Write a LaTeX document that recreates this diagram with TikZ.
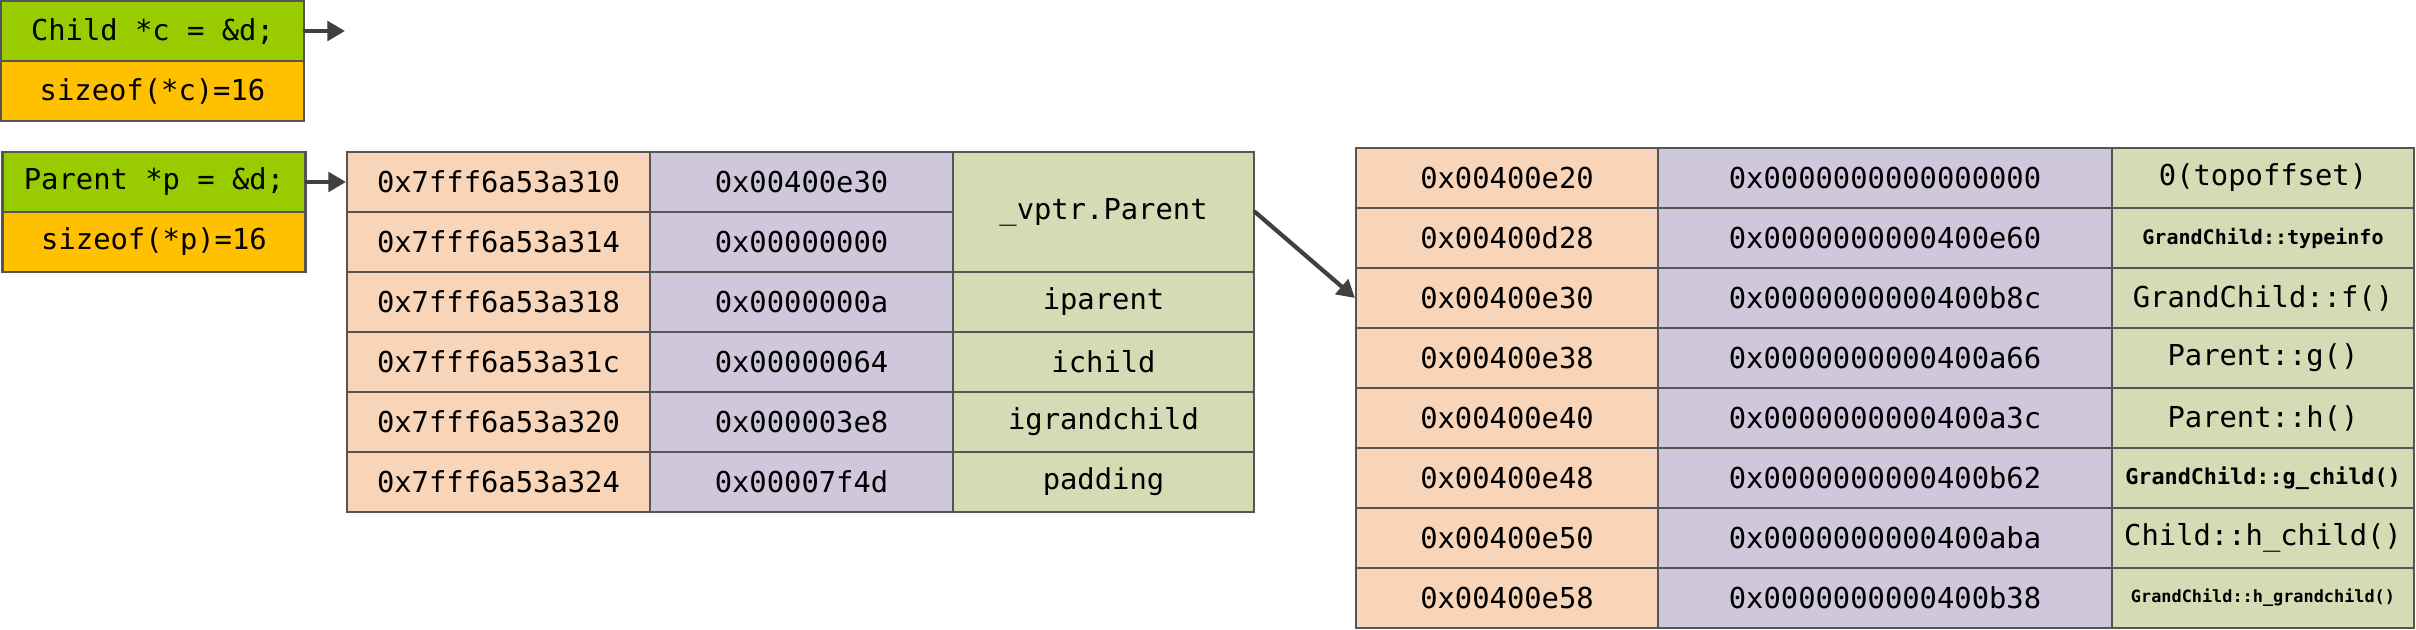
\documentclass[tikz,border=0pt]{standalone}
\usepackage{fontspec}
\setmonofont{DejaVu Sans Mono}
\usetikzlibrary{arrows.meta}

\definecolor{ptrgreen}{HTML}{99CC00}
\definecolor{sizeorange}{HTML}{FFC000}
\definecolor{addrpeach}{HTML}{F8D5B8}
\definecolor{vallilac}{HTML}{CFC7DC}
\definecolor{fieldgreen}{HTML}{D4DCB6}
\definecolor{gridgray}{HTML}{555555}
\definecolor{arrowgray}{HTML}{404040}

\begin{document}
\begin{tikzpicture}[
   cell/.style={draw=gridgray, line width=0.6pt, inner sep=0pt, minimum height=0.6cm,
                font=\ttfamily\fontsize{8.2}{10}\selectfont},
   ptrcell/.style={cell, fill=ptrgreen, minimum width=3.03cm},
   sizecell/.style={cell, fill=sizeorange, minimum width=3.03cm},
   addr/.style={cell, fill=addrpeach},
   val/.style={cell, fill=vallilac},
   field/.style={cell, fill=fieldgreen},
   tiny/.style={font=\ttfamily\bfseries\fontsize{#1}{7}\selectfont},
   ptr/.style={draw=arrowgray, line width=1.2pt, line cap=round, -{Triangle[length=5pt,width=5.5pt]}}
]
   \useasboundingbox (0,0) rectangle (24.16,6.29);

   % pointers
   \node[ptrcell]  (cptr)  at (1.525,5.98) {Child *c = \&d;};
   \node[sizecell] (csize) at (1.525,5.38) {sizeof(*c)=16};
   \node[ptrcell]  (pptr)  at (1.54,4.47)  {Parent *p = \&d;};
   \node[sizecell] (psize) at (1.54,3.87)  {sizeof(*p)=16};
   \coordinate (cend) at (3.45,5.98);

   % object d
   \begin{scope}[addr/.append style={minimum width=3.03cm},
                 val/.append style={minimum width=3.03cm},
                 field/.append style={minimum width=3.01cm}]
     \node[addr] (m1a) at (4.985,4.47) {0x7fff6a53a310};
     \node[addr] (m2a) at (4.985,3.87) {0x7fff6a53a314};
     \node[addr] (m3a) at (4.985,3.27) {0x7fff6a53a318};
     \node[addr] (m4a) at (4.985,2.67) {0x7fff6a53a31c};
     \node[addr] (m5a) at (4.985,2.07) {0x7fff6a53a320};
     \node[addr] (m6a) at (4.985,1.47) {0x7fff6a53a324};

     \node[val] (m1v) at (8.015,4.47) {0x00400e30};
     \node[val] (m2v) at (8.015,3.87) {0x00000000};
     \node[val] (m3v) at (8.015,3.27) {0x0000000a};
     \node[val] (m4v) at (8.015,2.67) {0x00000064};
     \node[val] (m5v) at (8.015,2.07) {0x000003e8};
     \node[val] (m6v) at (8.015,1.47) {0x00007f4d};

     \node[field, minimum height=1.2cm] (vptr) at (11.035,4.17) {\_vptr.Parent};
     \node[field] (m3n) at (11.035,3.27) {iparent};
     \node[field] (m4n) at (11.035,2.67) {ichild};
     \node[field] (m5n) at (11.035,2.07) {igrandchild};
     \node[field] (m6n) at (11.035,1.47) {padding};
   \end{scope}

   % vtable of GrandChild
   \begin{scope}[addr/.append style={minimum width=3.02cm},
                 val/.append style={minimum width=4.54cm},
                 field/.append style={minimum width=3.02cm}]
     \node[addr] (t1a) at (15.07,4.51) {0x00400e20};
     \node[addr] (t2a) at (15.07,3.91) {0x00400d28};
     \node[addr] (t3a) at (15.07,3.31) {0x00400e30};
     \node[addr] (t4a) at (15.07,2.71) {0x00400e38};
     \node[addr] (t5a) at (15.07,2.11) {0x00400e40};
     \node[addr] (t6a) at (15.07,1.51) {0x00400e48};
     \node[addr] (t7a) at (15.07,0.91) {0x00400e50};
     \node[addr] (t8a) at (15.07,0.31) {0x00400e58};

     \node[val] (t1v) at (18.85,4.51) {0x0000000000000000};
     \node[val] (t2v) at (18.85,3.91) {0x0000000000400e60};
     \node[val] (t3v) at (18.85,3.31) {0x0000000000400b8c};
     \node[val] (t4v) at (18.85,2.71) {0x0000000000400a66};
     \node[val] (t5v) at (18.85,2.11) {0x0000000000400a3c};
     \node[val] (t6v) at (18.85,1.51) {0x0000000000400b62};
     \node[val] (t7v) at (18.85,0.91) {0x0000000000400aba};
     \node[val] (t8v) at (18.85,0.31) {0x0000000000400b38};

     \node[field] (t1n) at (22.63,4.51) {0(topoffset)};
     \node[field, tiny=5.7] (t2n) at (22.63,3.91) {GrandChild::typeinfo};
     \node[field] (t3n) at (22.63,3.31) {GrandChild::f()};
     \node[field] (t4n) at (22.63,2.71) {Parent::g()};
     \node[field] (t5n) at (22.63,2.11) {Parent::h()};
     \node[field, tiny=6.2] (t6n) at (22.63,1.51) {GrandChild::g\_child()};
     \node[field] (t7n) at (22.63,0.91) {Child::h\_child()};
     \node[field, tiny=4.8] (t8n) at (22.63,0.31) {GrandChild::h\_grandchild()};
   \end{scope}

   \draw[ptr] (cptr.east) -- (cend);
   \draw[ptr] (pptr.east) -- (m1a.west);
   \draw[ptr] (vptr.east) -- (t3a.west);
\end{tikzpicture}
\end{document}
